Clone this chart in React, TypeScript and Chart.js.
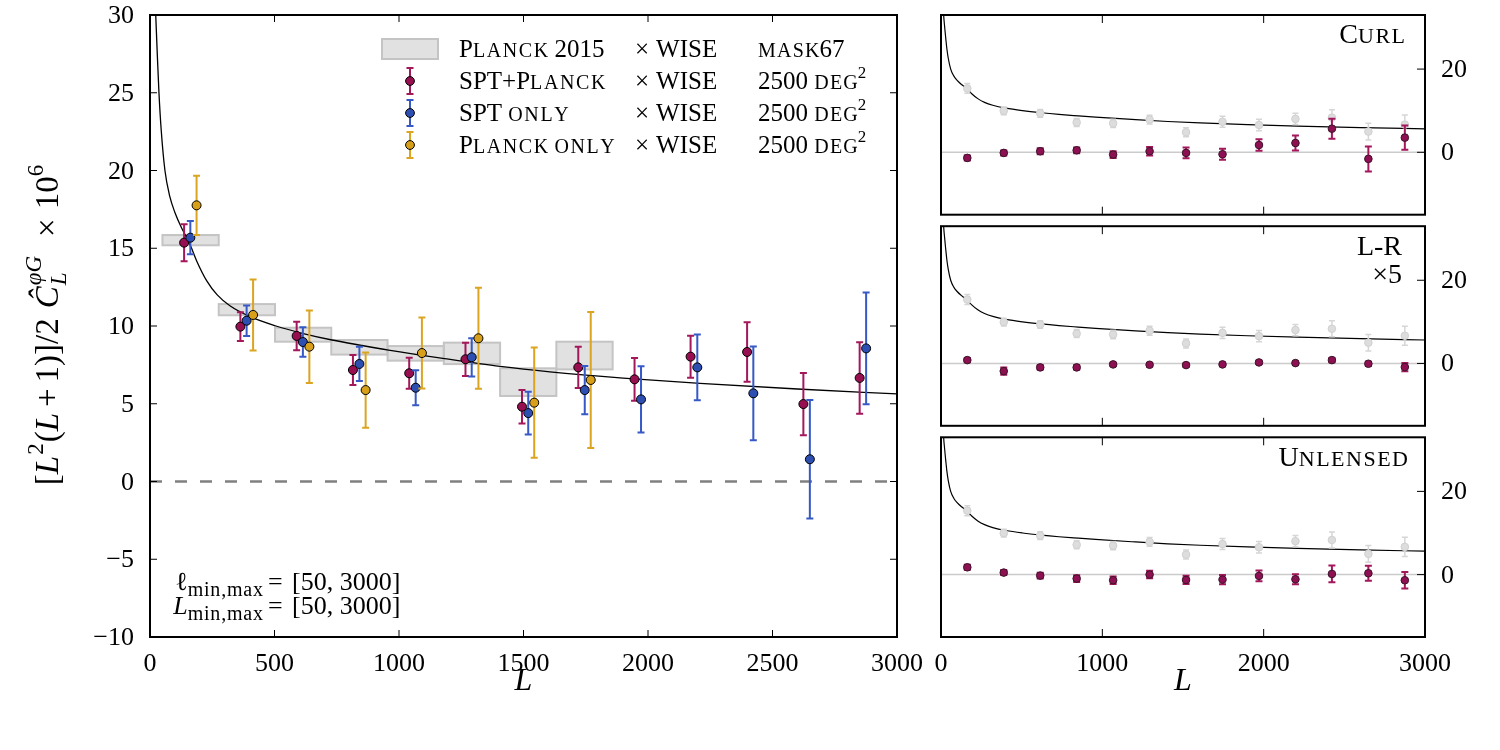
import React, { useEffect, useRef } from "react";
import { Chart, registerables } from "chart.js";

Chart.register(...registerables);

// ---------------- DATA ----------------
// Planck 2015 x WISE bandpowers (boxes): bin edges, centre value, half height
const BIN_EDGES = [50, 276, 502, 728, 954, 1180, 1406, 1632, 1858];
const PLANCK15_VAL = [15.52, 11.05, 9.44, 8.63, 8.24, 8.24, 6.39, 8.1];
const PLANCK15_HALF = [0.33, 0.36, 0.45, 0.47, 0.47, 0.69, 0.89, 0.89];

// SPT+Planck x WISE
const SPT_PLANCK_L = [137, 363, 589, 815, 1041, 1267, 1494, 1720, 1946, 2171, 2398, 2624, 2850];
const SPT_PLANCK_VAL = [15.36, 9.96, 9.36, 7.17, 6.96, 7.86, 4.81, 7.34, 6.57, 8.03, 8.33, 4.98, 6.66];
const SPT_PLANCK_ERR = [1.19, 0.93, 0.92, 0.96, 1.0, 1.07, 1.08, 1.33, 1.37, 1.35, 1.91, 2.0, 2.3];

// SPT only x WISE
const SPT_L = [162, 388, 614, 841, 1067, 1292, 1519, 1746, 1972, 2198, 2423, 2650, 2876];
const SPT_VAL = [15.68, 10.34, 8.97, 7.56, 6.03, 7.99, 4.4, 5.88, 5.28, 7.34, 5.67, 1.43, 8.56];
const SPT_ERR = [1.07, 0.98, 0.95, 1.1, 1.13, 1.23, 1.37, 1.55, 2.13, 2.11, 3.01, 3.81, 3.6];

// Planck only x WISE
const PLANCK_L = [187, 414, 640, 866, 1092, 1319, 1543, 1770];
const PLANCK_VAL = [17.76, 10.71, 8.67, 5.88, 8.26, 9.21, 5.07, 6.53];
const PLANCK_ERR = [1.91, 2.28, 2.33, 2.42, 2.28, 3.25, 3.54, 4.37];

// theory curve
const THEORY_L = [10, 15, 23, 30, 36, 45, 60, 80, 100, 127, 147, 167, 187, 228, 270, 321, 402, 506, 620, 731, 850, 958, 1183, 1406, 1606, 1900, 2209, 2600, 3000];
const THEORY_VAL = [40, 34, 30, 27.2, 25, 22.6, 20, 18.3, 17.3, 16.3, 15.7, 15.0, 14.2, 12.9, 12.0, 11.3, 10.6, 10.0, 9.5, 9.1, 8.75, 8.45, 7.9, 7.4, 7.05, 6.65, 6.31, 5.95, 5.63];

// null tests (right panels), plotted at bin centres
const BIN_CENTERS = [163, 389, 615, 841, 1067, 1293, 1519, 1745, 1971, 2197, 2423, 2649, 2875];
const CURL_VAL = [-1.35, -0.15, 0.25, 0.48, -0.55, 0.25, -0.15, -0.47, 1.75, 2.23, 5.67, -1.59, 3.52];
const CURL_ERR = [0.6, 0.6, 0.7, 0.7, 0.8, 1.0, 1.3, 1.3, 1.4, 1.8, 2.4, 3.0, 2.9];
const LR_VAL = [0.8, -1.85, -0.96, -0.96, -0.24, -0.32, -0.4, -0.24, 0.24, 0.08, 0.8, -0.08, -0.88];
const LR_ERR = [0.5, 0.9, 0.5, 0.5, 0.4, 0.4, 0.4, 0.4, 0.4, 0.4, 0.5, 0.5, 1.0];
const UNL_VAL = [1.75, 0.48, -0.24, -0.96, -1.36, 0, -1.28, -1.2, -0.32, -1.12, 0.16, 0.32, -1.36];
const UNL_ERR = [0.6, 0.6, 0.7, 0.8, 0.9, 0.9, 1.0, 1.1, 1.3, 1.2, 2.0, 1.8, 2.0];

// ticks
const LEFT_X_TICKS = [0, 500, 1000, 1500, 2000, 2500, 3000];
const LEFT_Y_TICKS = [-10, -5, 0, 5, 10, 15, 20, 25, 30];
const RIGHT_X_TICKS = [0, 1000, 2000, 3000];
const RIGHT_Y_TICKS = [0, 20];

// ---------------- STYLE ----------------
const SERIF = '"Liberation Serif", "DejaVu Serif", "Times New Roman", serif';
const MAGENTA = "#970F50";
const MAGENTA_ERR = "#A3175B";
const BLUE = "#2E4FB2";
const BLUE_ERR = "#3659C6";
const ORANGE = "#D8A01A";
const ORANGE_ERR = "#DBA421";
const GRAY_PT = "#DDDDDD";
const GRAY_ERR = "#D6D6D6";
const TICK_FONT = 26;

const xy = (xs: number[], ys: number[]) => xs.map((x, i) => ({ x, y: ys[i] }));
const fmt = (v: number) => (v < 0 ? "\u2212" + Math.abs(v) : String(v));

// ---------------- rich text helpers ----------------
type Run = { t?: string; size?: number; italic?: boolean; dy?: number; ls?: number; gap?: number; stack?: boolean };
const fontOf = (r: Run) => `${r.italic ? "italic " : ""}${r.size}px ${SERIF}`;

function runWidth(ctx: CanvasRenderingContext2D, r: Run) {
  if (r.gap !== undefined) return r.gap;
  ctx.font = fontOf(r);
  const w = ctx.measureText(r.t || "").width;
  return w + (r.ls ? r.ls * ((r.t || "").length - 1) : 0);
}

function layoutRuns(ctx: CanvasRenderingContext2D, runs: Run[]) {
  let x = 0;
  let start = 0;
  const pos: number[] = [];
  for (const r of runs) {
    const x0 = r.stack ? start : x;
    if (!r.stack) start = x0;
    const w = runWidth(ctx, r);
    pos.push(x0);
    x = Math.max(x, x0 + w);
  }
  return { pos, width: x };
}

function drawRuns(ctx: CanvasRenderingContext2D, runs: Run[], x: number, y: number, align: "left" | "right" | "center") {
  const { pos, width } = layoutRuns(ctx, runs);
  const off = align === "left" ? 0 : align === "right" ? -width : -width / 2;
  ctx.save();
  ctx.textAlign = "left";
  ctx.textBaseline = "alphabetic";
  ctx.fillStyle = "#000";
  runs.forEach((r, i) => {
    if (r.gap !== undefined || !r.t) return;
    ctx.font = fontOf(r);
    let px = x + off + pos[i];
    const py = y + (r.dy || 0);
    if (r.ls) {
      for (const ch of r.t) {
        ctx.fillText(ch, px, py);
        px += ctx.measureText(ch).width + r.ls;
      }
    } else {
      ctx.fillText(r.t, px, py);
    }
  });
  ctx.restore();
}

function sc(text: string, big: number, small: number, ls = 1.2): Run[] {
  const runs: Run[] = [];
  let cur: Run | null = null;
  for (const ch of text) {
    const low = /[a-z]/.test(ch);
    const size = low ? small : big;
    const t = low ? ch.toUpperCase() : ch;
    if (cur && cur.size === size) cur.t += t;
    else {
      cur = { t, size, ls: low ? ls : 0 };
      runs.push(cur);
    }
  }
  return runs;
}

// ---------------- plugins ----------------
const errorBarPlugin = {
  id: "errbars",
  beforeDatasetDraw(chart: any, args: any) {
    const ds = chart.data.datasets[args.index];
    if (!ds.errors) return;
    const { ctx, chartArea: a } = chart;
    const xs = chart.scales.x;
    const ys = chart.scales.y;
    const cap = ds.cap ?? 3.5;
    ctx.save();
    ctx.beginPath();
    ctx.rect(a.left, a.top, a.right - a.left, a.bottom - a.top);
    ctx.clip();
    ctx.strokeStyle = ds.errColor;
    ctx.lineWidth = ds.errWidth ?? 2;
    ds.data.forEach((p: any, i: number) => {
      const e = ds.errors[i];
      const px = xs.getPixelForValue(p.x);
      const yt = ys.getPixelForValue(p.y + e);
      const yb = ys.getPixelForValue(p.y - e);
      ctx.beginPath();
      ctx.moveTo(px, yt);
      ctx.lineTo(px, yb);
      ctx.moveTo(px - cap, yt);
      ctx.lineTo(px + cap, yt);
      ctx.moveTo(px - cap, yb);
      ctx.lineTo(px + cap, yb);
      ctx.stroke();
    });
    ctx.restore();
  },
};

type AxisOpts = { len: number; xBoth: boolean; yLeft: boolean; yRight: boolean; xLabels: boolean; yLabelSide: "left" | "right" };

function drawFrameAndTicks(chart: any, o: AxisOpts) {
  const { ctx, chartArea: a } = chart;
  const xs = chart.scales.x;
  const ys = chart.scales.y;
  ctx.save();
  ctx.strokeStyle = "#000";
  ctx.lineWidth = 1;
  ctx.beginPath();
  for (const t of xs.ticks) {
    const px = xs.getPixelForValue(t.value);
    ctx.moveTo(px, a.bottom);
    ctx.lineTo(px, a.bottom - o.len);
    if (o.xBoth) {
      ctx.moveTo(px, a.top);
      ctx.lineTo(px, a.top + o.len);
    }
  }
  for (const t of ys.ticks) {
    const py = ys.getPixelForValue(t.value);
    if (o.yLeft) {
      ctx.moveTo(a.left, py);
      ctx.lineTo(a.left + o.len, py);
    }
    if (o.yRight) {
      ctx.moveTo(a.right, py);
      ctx.lineTo(a.right - o.len, py);
    }
  }
  ctx.stroke();
  ctx.lineWidth = 2;
  ctx.strokeRect(a.left, a.top, a.right - a.left, a.bottom - a.top);

  // tick labels
  ctx.fillStyle = "#000";
  ctx.font = `${TICK_FONT}px ${SERIF}`;
  ctx.textBaseline = "alphabetic";
  if (o.xLabels) {
    ctx.textAlign = "center";
    for (const t of xs.ticks) {
      ctx.fillText(fmt(t.value), xs.getPixelForValue(t.value), a.bottom + 34);
    }
  }
  for (const t of ys.ticks) {
    const py = ys.getPixelForValue(t.value);
    if (o.yLabelSide === "left") {
      ctx.textAlign = "right";
      ctx.fillText(fmt(t.value), a.left - 16, py + 8);
    } else {
      ctx.textAlign = "left";
      ctx.fillText(fmt(t.value), a.right + 16, py + 8);
    }
  }
  ctx.restore();
}

function legendErr(ctx: CanvasRenderingContext2D, x: number, y: number, col: string, errCol: string) {
  ctx.save();
  ctx.strokeStyle = errCol;
  ctx.lineWidth = 2;
  ctx.beginPath();
  ctx.moveTo(x, y - 13);
  ctx.lineTo(x, y + 13);
  ctx.moveTo(x - 3.5, y - 13);
  ctx.lineTo(x + 3.5, y - 13);
  ctx.moveTo(x - 3.5, y + 13);
  ctx.lineTo(x + 3.5, y + 13);
  ctx.stroke();
  ctx.beginPath();
  ctx.arc(x, y, 4.4, 0, Math.PI * 2);
  ctx.fillStyle = col;
  ctx.fill();
  ctx.strokeStyle = "#000";
  ctx.lineWidth = 1;
  ctx.stroke();
  ctx.restore();
}

const leftPlugin = {
  id: "leftDecor",
  beforeDatasetsDraw(chart: any) {
    const { ctx, chartArea: a } = chart;
    const xs = chart.scales.x;
    const ys = chart.scales.y;
    ctx.save();
    ctx.beginPath();
    ctx.rect(a.left, a.top, a.right - a.left, a.bottom - a.top);
    ctx.clip();
    PLANCK15_VAL.forEach((v, i) => {
      const x0 = xs.getPixelForValue(BIN_EDGES[i]);
      const x1 = xs.getPixelForValue(BIN_EDGES[i + 1]);
      const y0 = ys.getPixelForValue(v + PLANCK15_HALF[i]);
      const y1 = ys.getPixelForValue(v - PLANCK15_HALF[i]);
      ctx.fillStyle = "#E1E1E1";
      ctx.fillRect(x0, y0, x1 - x0, y1 - y0);
    });
    PLANCK15_VAL.forEach((v, i) => {
      const x0 = xs.getPixelForValue(BIN_EDGES[i]);
      const x1 = xs.getPixelForValue(BIN_EDGES[i + 1]);
      const y0 = ys.getPixelForValue(v + PLANCK15_HALF[i]);
      const y1 = ys.getPixelForValue(v - PLANCK15_HALF[i]);
      ctx.strokeStyle = "#C4C4C4";
      ctx.lineWidth = 2;
      ctx.strokeRect(x0, y0, x1 - x0, y1 - y0);
    });
    const y0 = ys.getPixelForValue(0);
    ctx.setLineDash([12, 13]);
    ctx.strokeStyle = "#808080";
    ctx.lineWidth = 2.5;
    ctx.beginPath();
    ctx.moveTo(a.left, y0);
    ctx.lineTo(a.right, y0);
    ctx.stroke();
    ctx.restore();
  },
  afterDraw(chart: any) {
    const { ctx, chartArea: a } = chart;
    drawFrameAndTicks(chart, { len: 7, xBoth: true, yLeft: true, yRight: true, xLabels: true, yLabelSide: "left" });

    // legend
    const cx = 459, cw = 635, cd = 758;
    const big = 25, small = 20;
    ctx.save();
    ctx.fillStyle = "#E1E1E1";
    ctx.fillRect(382, 39, 56, 20);
    ctx.strokeStyle = "#C4C4C4";
    ctx.lineWidth = 2;
    ctx.strokeRect(382, 39, 56, 20);
    ctx.restore();
    legendErr(ctx, 410, 81, MAGENTA, MAGENTA_ERR);
    legendErr(ctx, 410, 113, BLUE, BLUE_ERR);
    legendErr(ctx, 410, 145, ORANGE, ORANGE_ERR);
    const rows = [
      { b: 57, name: "Planck 2015", third: sc("mask67", big, small) },
      { b: 89, name: "SPT+Planck", third: null },
      { b: 121, name: "SPT only", third: null },
      { b: 153, name: "Planck only", third: null },
    ];
    rows.forEach((r) => {
      drawRuns(ctx, sc(r.name, big, small, 1.6), cx, r.b, "left");
      drawRuns(ctx, [{ t: "×", size: big }, { gap: 7 }, { t: "WISE", size: big }], cw, r.b, "left");
      const third: Run[] = r.third || [{ t: "2500 ", size: big }, ...sc("deg", big, small), { t: "2", size: 17, dy: -11 }];
      drawRuns(ctx, third, cd, r.b, "left");
    });

    // annotation
    drawRuns(ctx, [{ t: "ℓ", size: 26 }, { t: "min,max", size: 20, dy: 6, ls: 0.8 }], 263, 590, "right");
    drawRuns(ctx, [{ t: "L", size: 26, italic: true }, { t: "min,max", size: 20, dy: 6, ls: 0.8 }], 263, 614, "right");
    drawRuns(ctx, [{ t: "=", size: 26 }], 268, 590, "left");
    drawRuns(ctx, [{ t: "=", size: 26 }], 268, 614, "left");
    drawRuns(ctx, [{ t: "[50, 3000]", size: 26 }], 292, 590, "left");
    drawRuns(ctx, [{ t: "[50, 3000]", size: 26 }], 292, 614, "left");

    // x title
    drawRuns(ctx, [{ t: "L", size: 32, italic: true }], (a.left + a.right) / 2, 690, "center");

    // y title (rotated)
    const F = 33;
    const S = 23;
    const yt: Run[] = [
      { t: "[", size: F },
      { t: "L", size: F, italic: true },
      { gap: 1 },
      { t: "2", size: S, dy: -15 },
      { gap: 1 },
      { t: "(", size: F },
      { t: "L", size: F, italic: true },
      { gap: 6 },
      { t: "+", size: F },
      { gap: 6 },
      { t: "1)]/2", size: F },
      { gap: 10 },
      { t: "Ĉ", size: F, italic: true },
      { gap: 1 },
      { t: "φG", size: S, italic: true, dy: -17 },
      { t: "L", size: S, italic: true, dy: 8, stack: true },
      { gap: 19 },
      { t: "×", size: F },
      { gap: 9 },
      { t: "10", size: F },
      { t: "6", size: S, dy: -15 },
    ];
    ctx.save();
    ctx.translate(58, 325);
    ctx.rotate(-Math.PI / 2);
    drawRuns(ctx, yt, 0, 0, "center");
    ctx.restore();
  },
};

function makeRightPlugin(ox: number, oy: number, label: (ctx: CanvasRenderingContext2D, ox: number, oy: number) => void, xTitle: boolean) {
  return {
    id: "rightDecor",
    beforeDatasetsDraw(chart: any) {
      const { ctx, chartArea: a } = chart;
      const ys = chart.scales.y;
      const y0 = ys.getPixelForValue(0);
      ctx.save();
      ctx.strokeStyle = "#CBCBCB";
      ctx.lineWidth = 1.5;
      ctx.beginPath();
      ctx.moveTo(a.left, y0);
      ctx.lineTo(a.right, y0);
      ctx.stroke();
      ctx.restore();
    },
    afterDraw(chart: any) {
      const { ctx, chartArea: a } = chart;
      drawFrameAndTicks(chart, { len: 8, xBoth: true, yLeft: false, yRight: true, xLabels: xTitle, yLabelSide: "right" });
      label(ctx, ox, oy);
      if (xTitle) drawRuns(ctx, [{ t: "L", size: 32, italic: true }], (a.left + a.right) / 2, 690 - oy, "center");
    },
  };
}

const zeroPad = (s: any) => {
  s.paddingTop = 0;
  s.paddingBottom = 0;
  s.paddingLeft = 0;
  s.paddingRight = 0;
};

function axisX(ticks: number[], height: number) {
  return {
    type: "linear",
    position: "bottom",
    min: 0,
    max: 3000,
    grid: { display: false },
    border: { display: false },
    ticks: { display: false },
    afterBuildTicks: (s: any) => {
      s.ticks = ticks.map((v) => ({ value: v }));
    },
    afterFit: (s: any) => {
      s.height = height;
      zeroPad(s);
    },
  };
}

function axisY(ticks: number[], min: number, max: number, position: string, width: number) {
  return {
    type: "linear",
    position,
    min,
    max,
    grid: { display: false },
    border: { display: false },
    ticks: { display: false },
    afterBuildTicks: (s: any) => {
      s.ticks = ticks.map((v) => ({ value: v }));
    },
    afterFit: (s: any) => {
      s.width = width;
      zeroPad(s);
    },
  };
}

function leftConfig(): any {
  return {
    type: "scatter",
    data: {
      datasets: [
        {
          label: "theory",
          data: xy(THEORY_L, THEORY_VAL),
          showLine: true,
          borderColor: "#000",
          borderWidth: 1.3,
          pointRadius: 0,
          cubicInterpolationMode: "monotone",
          order: 10,
        },
        {
          label: "SPT+Planck",
          data: xy(SPT_PLANCK_L, SPT_PLANCK_VAL),
          errors: SPT_PLANCK_ERR,
          errColor: MAGENTA_ERR,
          backgroundColor: MAGENTA,
          borderColor: "#000",
          borderWidth: 1,
          pointRadius: 4.5,
          order: 3,
        },
        {
          label: "SPT only",
          data: xy(SPT_L, SPT_VAL),
          errors: SPT_ERR,
          errColor: BLUE_ERR,
          backgroundColor: BLUE,
          borderColor: "#000",
          borderWidth: 1,
          pointRadius: 4.5,
          order: 2,
        },
        {
          label: "Planck only",
          data: xy(PLANCK_L, PLANCK_VAL),
          errors: PLANCK_ERR,
          errColor: ORANGE_ERR,
          backgroundColor: ORANGE,
          borderColor: "#000",
          borderWidth: 1,
          pointRadius: 4.5,
          order: 1,
        },
      ],
    },
    options: {
      animation: false,
      responsive: false,
      events: [],
      layout: { padding: { left: 0, top: 15, right: 28, bottom: 0 } },
      plugins: { legend: { display: false }, tooltip: { enabled: false } },
      scales: {
        x: axisX(LEFT_X_TICKS, 113),
        y: axisY(LEFT_Y_TICKS, -10, 30, "left", 150),
      },
    },
    plugins: [errorBarPlugin, leftPlugin],
  };
}

function rightConfig(vals: number[], errs: number[], padTop: number, xHeight: number, plugin: any): any {
  return {
    type: "scatter",
    data: {
      datasets: [
        {
          label: "theory",
          data: xy(THEORY_L, THEORY_VAL),
          showLine: true,
          borderColor: "#000",
          borderWidth: 1.2,
          pointRadius: 0,
          cubicInterpolationMode: "monotone",
          order: 10,
        },
        {
          label: "SPT+Planck (reference)",
          data: xy(BIN_CENTERS, SPT_PLANCK_VAL),
          errors: SPT_PLANCK_ERR,
          errColor: GRAY_ERR,
          errWidth: 1.5,
          cap: 3,
          backgroundColor: GRAY_PT,
          borderColor: "#D0D0D0",
          borderWidth: 1,
          pointRadius: 3.8,
          order: 5,
        },
        {
          label: "null",
          data: xy(BIN_CENTERS, vals),
          errors: errs,
          errColor: MAGENTA_ERR,
          backgroundColor: "#8E1052",
          borderColor: "#3A1428",
          borderWidth: 1,
          pointRadius: 3.8,
          order: 1,
        },
      ],
    },
    options: {
      animation: false,
      responsive: false,
      events: [],
      layout: { padding: { left: 16, top: padTop, right: 0, bottom: 0 } },
      plugins: { legend: { display: false }, tooltip: { enabled: false } },
      scales: {
        x: axisX(RIGHT_X_TICKS, xHeight),
        y: axisY(RIGHT_Y_TICKS, -15, 33, "right", 75),
      },
    },
    plugins: [errorBarPlugin, plugin],
  };
}

// panel geometry (page coordinates)
const RIGHT_LEFT = 925;
const RIGHT_W = 575;
const P1 = { top: 0, h: 232, areaTop: 15, areaBottom: 214.7 };
const P2 = { top: 205, h: 240, areaTop: 226.2, areaBottom: 425.8 };
const P3 = { top: 420, h: 330, areaTop: 437.3, areaBottom: 637 };

export default function App() {
  const leftRef = useRef<HTMLCanvasElement>(null);
  const r1 = useRef<HTMLCanvasElement>(null);
  const r2 = useRef<HTMLCanvasElement>(null);
  const r3 = useRef<HTMLCanvasElement>(null);

  useEffect(() => {
    const charts: Chart[] = [];
    charts.push(new Chart(leftRef.current as HTMLCanvasElement, leftConfig()));

    const curlPlugin = makeRightPlugin(RIGHT_LEFT, P1.top, (ctx, ox, oy) => {
      drawRuns(ctx, sc("Curl", 28, 22, 1.5), 1405 - ox, 43 - oy, "right");
    }, false);
    charts.push(
      new Chart(r1.current as HTMLCanvasElement, rightConfig(CURL_VAL, CURL_ERR, P1.areaTop - P1.top, P1.top + P1.h - P1.areaBottom, curlPlugin))
    );

    const lrPlugin = makeRightPlugin(RIGHT_LEFT, P2.top, (ctx, ox, oy) => {
      drawRuns(ctx, [{ t: "L-R", size: 28 }], 1402 - ox, 255 - oy, "right");
      drawRuns(ctx, [{ t: "×5", size: 28 }], 1402 - ox, 283 - oy, "right");
    }, false);
    charts.push(
      new Chart(r2.current as HTMLCanvasElement, rightConfig(LR_VAL, LR_ERR, P2.areaTop - P2.top, P2.top + P2.h - P2.areaBottom, lrPlugin))
    );

    const unlPlugin = makeRightPlugin(RIGHT_LEFT, P3.top, (ctx, ox, oy) => {
      drawRuns(ctx, sc("Unlensed", 28, 22, 1.5), 1408 - ox, 466 - oy, "right");
    }, true);
    charts.push(
      new Chart(r3.current as HTMLCanvasElement, rightConfig(UNL_VAL, UNL_ERR, P3.areaTop - P3.top, P3.top + P3.h - P3.areaBottom, unlPlugin))
    );

    return () => charts.forEach((c) => c.destroy());
  }, []);

  const abs = (left: number, top: number, w: number, h: number): React.CSSProperties => ({
    position: "absolute",
    left,
    top,
    width: w,
    height: h,
  });

  return (
    <div style={{ position: "absolute", left: 0, top: 0, width: 1500, height: 750, background: "#fff" }}>
      <canvas ref={leftRef} width={925} height={750} style={abs(0, 0, 925, 750)} />
      <canvas ref={r1} width={RIGHT_W} height={P1.h} style={abs(RIGHT_LEFT, P1.top, RIGHT_W, P1.h)} />
      <canvas ref={r2} width={RIGHT_W} height={P2.h} style={abs(RIGHT_LEFT, P2.top, RIGHT_W, P2.h)} />
      <canvas ref={r3} width={RIGHT_W} height={P3.h} style={abs(RIGHT_LEFT, P3.top, RIGHT_W, P3.h)} />
    </div>
  );
}
